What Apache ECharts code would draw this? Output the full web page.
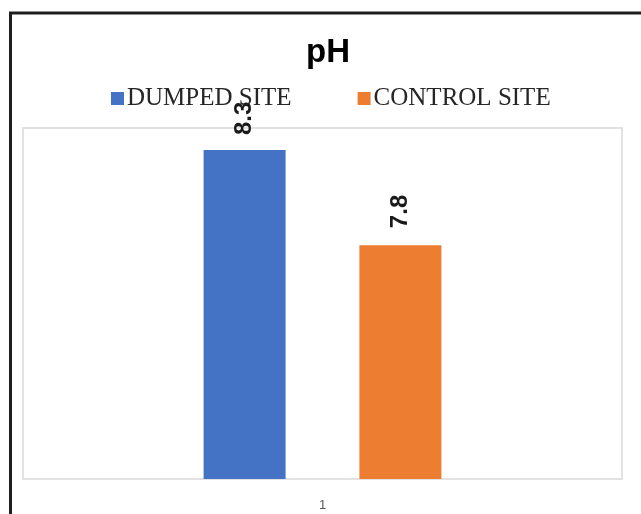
<!DOCTYPE html>
<html>
<head>
<meta charset="utf-8">
<script src="https://cdn.jsdelivr.net/npm/echarts@6/dist/echarts.min.js"></script>
<style>
html,body{margin:0;padding:0;background:#fff;}
#c{width:641px;height:514px;}
</style>
</head>
<body>
<div id="c"></div>
<script>
var categories = ['1'];
var seriesNames = ['DUMPED SITE', 'CONTROL SITE'];
var dumpedValues = [8.3];
var controlValues = [7.8];
var titleText = 'pH';

var chart = echarts.init(document.getElementById('c'), null, {renderer: 'canvas'});
chart.setOption({
  animation: false,
  backgroundColor: '#ffffff',
  title: {
    text: titleText,
    left: 301,
    top: 31,
    textStyle: {fontFamily: 'Liberation Sans, Arial', fontWeight: 'bold', fontSize: 33, color: '#000'}
  },
  legend: {
    left: 106,
    top: 81,
    itemWidth: 13,
    itemHeight: 13,
    itemGap: 66,
    icon: 'rect',
    textStyle: {fontFamily: 'Liberation Serif, Times New Roman', fontSize: 25, color: '#262626', padding: [0,0,0,-2]},
    data: seriesNames
  },
  graphic: [{
    type: 'rect',
    shape: {x: 10.5, y: 13, width: 700, height: 600},
    style: {fill: 'none', stroke: '#1e1e1e', lineWidth: 3},
    silent: true,
    z: 100
  }],
  grid: {
    left: 23, right: 19, top: 128, bottom: 35,
    show: true, borderColor: '#d9d9d9', borderWidth: 1.5
  },
  xAxis: {
    type: 'category',
    data: categories,
    axisLine: {show: false},
    axisTick: {show: false},
    axisLabel: {margin: 20, fontSize: 13, color: '#595959', fontFamily: 'Liberation Sans, Arial'}
  },
  yAxis: {
    type: 'value',
    min: 6.57,
    max: 8.416,
    show: false,
    splitLine: {show: false}
  },
  series: [{
    name: seriesNames[0],
    type: 'bar',
    data: dumpedValues,
    barWidth: 82,
    barGap: '90%',
    itemStyle: {color: '#4472C4'},
    label: {
      show: true, position: 'top', rotate: 90, align: 'left', verticalAlign: 'middle',
      distance: 15, fontSize: 24, fontWeight: 'bold', color: '#1a1a1a', fontFamily: 'Liberation Sans, Arial'
    }
  }, {
    name: seriesNames[1],
    type: 'bar',
    data: controlValues,
    barWidth: 82,
    itemStyle: {color: '#ED7D31'},
    label: {
      show: true, position: 'top', rotate: 90, align: 'left', verticalAlign: 'middle',
      distance: 17, fontSize: 24, fontWeight: 'bold', color: '#1a1a1a', fontFamily: 'Liberation Sans, Arial'
    }
  }]
});
</script>
</body>
</html>
